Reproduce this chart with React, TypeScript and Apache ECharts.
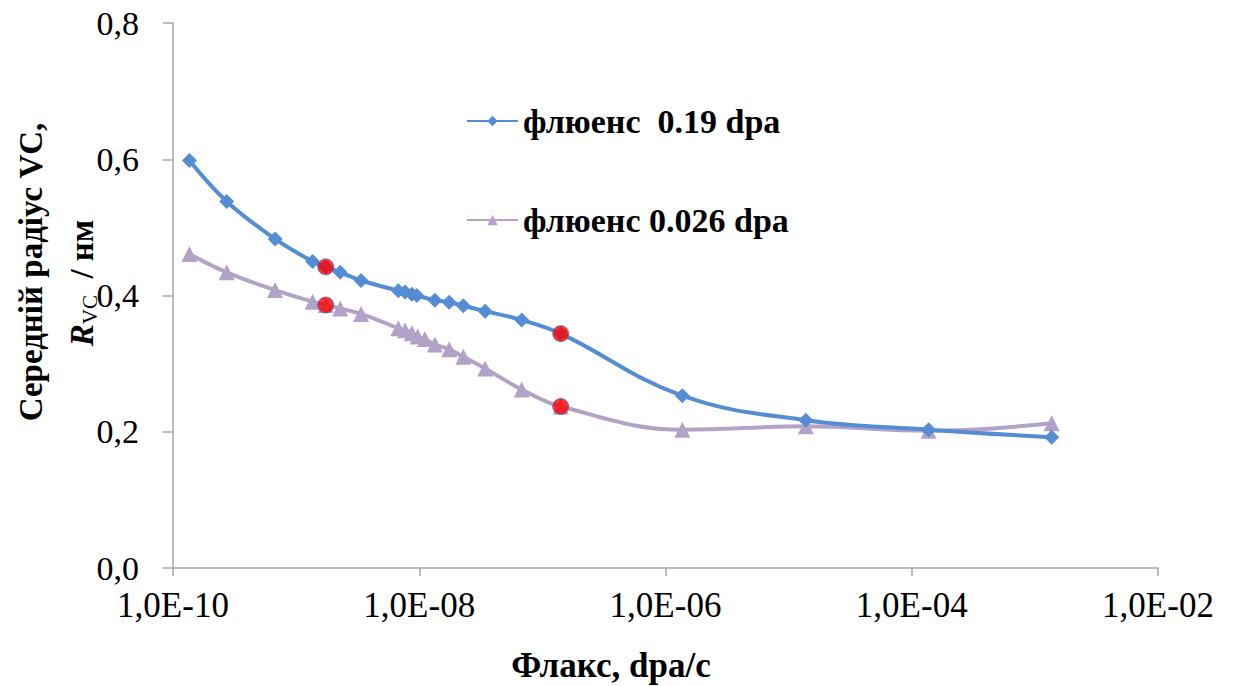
import React, { useEffect, useRef } from "react";
import * as echarts from "echarts";

const blueFlux = [1.36e-10, 2.73e-10, 6.75e-10, 1.36e-9, 1.74e-9, 2.28e-9, 3.37e-9, 6.76e-9, 7.67e-9, 8.7e-9, 9.55e-9, 1.34e-8, 1.75e-8, 2.28e-8, 3.43e-8, 6.8e-8, 1.41e-7, 1.37e-6, 1.38e-5, 1.37e-4, 1.37e-3];
const blueRadius = [0.598, 0.538, 0.483, 0.45, 0.442, 0.434, 0.422, 0.407, 0.405, 0.402, 0.4, 0.393, 0.39, 0.385, 0.377, 0.364, 0.344, 0.253, 0.217, 0.203, 0.192];

const purpleFlux = [1.36e-10, 2.73e-10, 6.75e-10, 1.36e-9, 1.74e-9, 2.28e-9, 3.37e-9, 6.76e-9, 7.67e-9, 8.7e-9, 9.7e-9, 1.11e-8, 1.34e-8, 1.75e-8, 2.28e-8, 3.43e-8, 6.8e-8, 1.41e-7, 1.37e-6, 1.38e-5, 1.37e-4, 1.37e-3];
const purpleRadius = [0.461, 0.434, 0.408, 0.391, 0.386, 0.381, 0.373, 0.352, 0.349, 0.3445, 0.34, 0.336, 0.328, 0.321, 0.31, 0.293, 0.262, 0.237, 0.203, 0.208, 0.2015, 0.2124];

const markedFlux = [1.74e-9, 1.74e-9, 1.41e-7, 1.41e-7];
const markedRadius = [0.442, 0.386, 0.344, 0.237];

const seriesNames = ["флюенс  0.19 dpa", "флюенс 0.026 dpa"];
const yTickMin = 0;
const yTickMax = 0.8;
const yTickStep = 0.2;
const xMin = 1e-10;
const xMax = 1e-2;

const FONT = "Liberation Serif, Times New Roman, serif";

const zip = (a: number[], b: number[]) => a.map((v, i) => [v, b[i]]);

export default function App() {
  const ref = useRef<HTMLDivElement>(null);
  useEffect(() => {
    if (!ref.current) return;
    const chart = echarts.init(ref.current, undefined, { renderer: "svg" });
    chart.setOption({
      animation: false,
      backgroundColor: "#ffffff",
      grid: { left: 173, right: 79, top: 23, bottom: 118, containLabel: false },
      legend: {
        data: seriesNames,
        orient: "vertical",
        left: 461,
        top: 96,
        itemWidth: 51,
        itemHeight: 13,
        itemGap: 59,
        textStyle: { fontFamily: FONT, fontSize: 34, fontWeight: "bold", color: "#000", lineHeight: 40 },
      },
      xAxis: {
        type: "log",
        logBase: 10,
        min: xMin,
        max: xMax,
        interval: 2,
        axisLine: { show: true, lineStyle: { color: "#a6a6a6", width: 1.5 } },
        axisTick: { show: true, length: 8, lineStyle: { color: "#a6a6a6", width: 1.5 } },
        minorTick: { show: false },
        splitLine: { show: false },
        axisLabel: {
          margin: 20,
          fontFamily: FONT,
          fontSize: 35,
          color: "#000",
          formatter: (v: number) => {
            const e = Math.round(Math.log10(v));
            const s = Math.abs(e).toString().padStart(2, "0");
            return "1,0E" + (e < 0 ? "-" : "+") + s;
          },
        },
      },
      yAxis: {
        type: "value",
        min: yTickMin,
        max: yTickMax,
        interval: yTickStep,
        axisLine: { show: true, lineStyle: { color: "#a6a6a6", width: 1.5 } },
        axisTick: { show: true, length: 10, lineStyle: { color: "#a6a6a6", width: 1.5 } },
        splitLine: { show: false },
        axisLabel: {
          margin: 34,
          fontFamily: FONT,
          fontSize: 34,
          color: "#000",
          formatter: (v: number) => v.toFixed(1).replace(".", ","),
        },
      },
      graphic: [
        {
          type: "text",
          x: 31,
          y: 272,
          rotation: Math.PI / 2,
          style: {
            text: "Середній радіус VC,",
            fontFamily: FONT,
            fontSize: 33,
            fontWeight: "bold",
            fill: "#000",
            align: "center",
            verticalAlign: "middle",
          },
        },
        {
          type: "text",
          x: 82,
          y: 283,
          rotation: Math.PI / 2,
          style: {
            text: "{i|R}{s|VC}{b|  / нм}",
            fill: "#000",
            align: "center",
            verticalAlign: "middle",
            rich: {
              i: { fontFamily: FONT, fontSize: 33, fontStyle: "italic", fontWeight: "bold", lineHeight: 40, verticalAlign: "middle" },
              s: { fontFamily: FONT, fontSize: 21, lineHeight: 40, verticalAlign: "bottom", padding: [0, 0, 2, 0] },
              b: { fontFamily: FONT, fontSize: 33, fontWeight: "bold", lineHeight: 40, verticalAlign: "middle" },
            },
          },
        },
        {
          type: "text",
          x: 611,
          y: 665,
          style: {
            text: "Флакс, dpa/c",
            fontFamily: FONT,
            fontSize: 35,
            fontWeight: "bold",
            fill: "#000",
            align: "center",
            verticalAlign: "middle",
          },
        },
      ],
      series: [
        {
          name: seriesNames[0],
          type: "line",
          data: zip(blueFlux, blueRadius),
          smooth: 0.4,
          symbol: "diamond",
          symbolSize: 15,
          itemStyle: { color: "#548dd4" },
          lineStyle: { color: "#548dd4", width: 4 },
          z: 3,
        },
        {
          name: seriesNames[1],
          type: "line",
          data: zip(purpleFlux, purpleRadius),
          smooth: 0.4,
          symbol: "triangle",
          symbolSize: 16,
          itemStyle: { color: "#b3a2c7" },
          lineStyle: { color: "#b3a2c7", width: 4 },
          z: 2,
        },
        {
          name: "marked",
          type: "scatter",
          data: zip(markedFlux, markedRadius),
          symbol: "circle",
          symbolSize: 16,
          itemStyle: { color: "#ff0000", borderColor: "#4a6fb0", borderWidth: 1 },
          z: 5,
        },
      ],
    });
    return () => chart.dispose();
  }, []);
  return <div ref={ref} style={{ position: "fixed", left: 0, top: 0, width: 1237, height: 686 }} />;
}
